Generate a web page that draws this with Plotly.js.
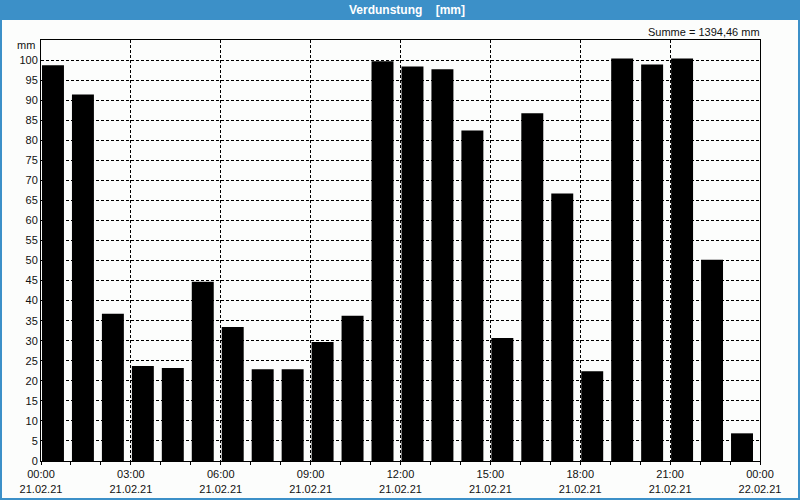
<!DOCTYPE html>
<html>
<head>
<meta charset="utf-8">
<script src="https://cdn.plot.ly/plotly-3.0.1.min.js"></script>
<style>
html,body{margin:0;padding:0;background:#fcfdfc;}
#chart{width:800px;height:500px;}
</style>
</head>
<body>
<div id="chart"></div>
<script>
// Hourly evaporation values (mm), 21.02.21 00:00 .. 23:00
const hours = [0,1,2,3,4,5,6,7,8,9,10,11,12,13,14,15,16,17,18,19,20,21,22,23];
const values = [98.7,91.4,36.7,23.7,23.2,44.7,33.4,22.9,22.9,29.7,36.2,99.7,98.4,97.7,82.4,30.7,86.7,66.7,22.4,100.4,98.9,100.4,50.2,6.9];
const tickVals = [0,3,6,9,12,15,18,21,24];
const tickTimes = ["00:00","03:00","06:00","09:00","12:00","15:00","18:00","21:00","00:00"];
const tickDates = ["21.02.21","21.02.21","21.02.21","21.02.21","21.02.21","21.02.21","21.02.21","21.02.21","22.02.21"];
const yTicks = [0,5,10,15,20,25,30,35,40,45,50,55,60,65,70,75,80,85,90,95,100];
const titleText = "Verdunstung\u00a0\u00a0\u00a0\u00a0[mm]";
const sumText = "Summe = 1394,46 mm";

const W = 800, H = 500;
const mL = 41, mR = 40, mT = 40, mB = 39;
const pw = W - mL - mR, ph = H - mT - mB;
// helpers converting pixel positions to paper coords (for decoration only)
const px = p => (p - mL) / pw;
const py = p => 1 - (p - mT) / ph;

const blue = '#3c90c8';
const font = 'Liberation Sans, Arial, sans-serif';

const trace = {
  type: 'bar',
  x: hours,
  y: values,
  width: 0.733,
  offset: 0.033,
  marker: {color: '#000000', line: {width: 0}},
  hoverinfo: 'x+y'
};

const layout = {
  width: W, height: H,
  margin: {l: mL, r: mR, t: mT, b: mB, pad: 0},
  paper_bgcolor: '#fcfdfc',
  plot_bgcolor: '#fcfdfc',
  showlegend: false,
  font: {family: font, size: 11, color: '#111111'},
  title: {
    text: '<b>' + titleText + '</b>',
    font: {family: font, size: 12, color: '#ffffff'},
    x: 407 / W, xanchor: 'center', xref: 'container',
    y: 1 - 10 / H, yanchor: 'middle', yref: 'container'
  },
  xaxis: {
    range: [0, 24],
    tickmode: 'array',
    tickvals: tickVals,
    ticktext: tickTimes.map((t, i) => t + '<br>' + tickDates[i]),
    ticks: 'outside', ticklen: 3, tickcolor: '#000', tickwidth: 1,
    showgrid: true, gridcolor: '#000000', gridwidth: 1, griddash: '3px,2px',
    minor: {dtick: 1, tick0: 0, ticks: 'outside', ticklen: 3, tickcolor: '#000', showgrid: false},
    showline: true, linecolor: '#000000', linewidth: 1, mirror: true,
    zeroline: false, fixedrange: true,
    tickfont: {family: font, size: 11, color: '#111111'}
  },
  yaxis: {
    range: [0, 105],
    tickmode: 'array',
    tickvals: yTicks,
    ticks: '',
    showgrid: true, gridcolor: '#000000', gridwidth: 1, griddash: '3px,2px',
    showline: true, linecolor: '#000000', linewidth: 1, mirror: true,
    zeroline: false, fixedrange: true,
    tickfont: {family: font, size: 11, color: '#111111'}
  },
  shapes: [
    {type: 'rect', xref: 'paper', yref: 'paper', x0: px(0), x1: px(800), y0: py(20), y1: py(0),
     fillcolor: blue, line: {width: 0}, layer: 'below'},
    {type: 'line', xref: 'paper', yref: 'paper', x0: px(1), x1: px(1), y0: py(0), y1: py(500),
     line: {color: blue, width: 2}},
    {type: 'line', xref: 'paper', yref: 'paper', x0: px(799), x1: px(799), y0: py(0), y1: py(500),
     line: {color: blue, width: 2}},
    {type: 'line', xref: 'paper', yref: 'paper', x0: px(0), x1: px(800), y0: py(499), y1: py(499),
     line: {color: blue, width: 2}}
  ],
  annotations: [
    {text: sumText, xref: 'paper', yref: 'paper', x: px(762), y: py(32),
     xanchor: 'right', yanchor: 'middle', showarrow: false,
     font: {family: font, size: 11, color: '#111111'}},
    {text: 'mm', xref: 'paper', yref: 'paper', x: px(37), y: py(45),
     xanchor: 'right', yanchor: 'middle', showarrow: false,
     font: {family: font, size: 11, color: '#111111'}}
  ]
};

Plotly.newPlot('chart', [trace], layout, {displayModeBar: false, staticPlot: true});
</script>
</body>
</html>
